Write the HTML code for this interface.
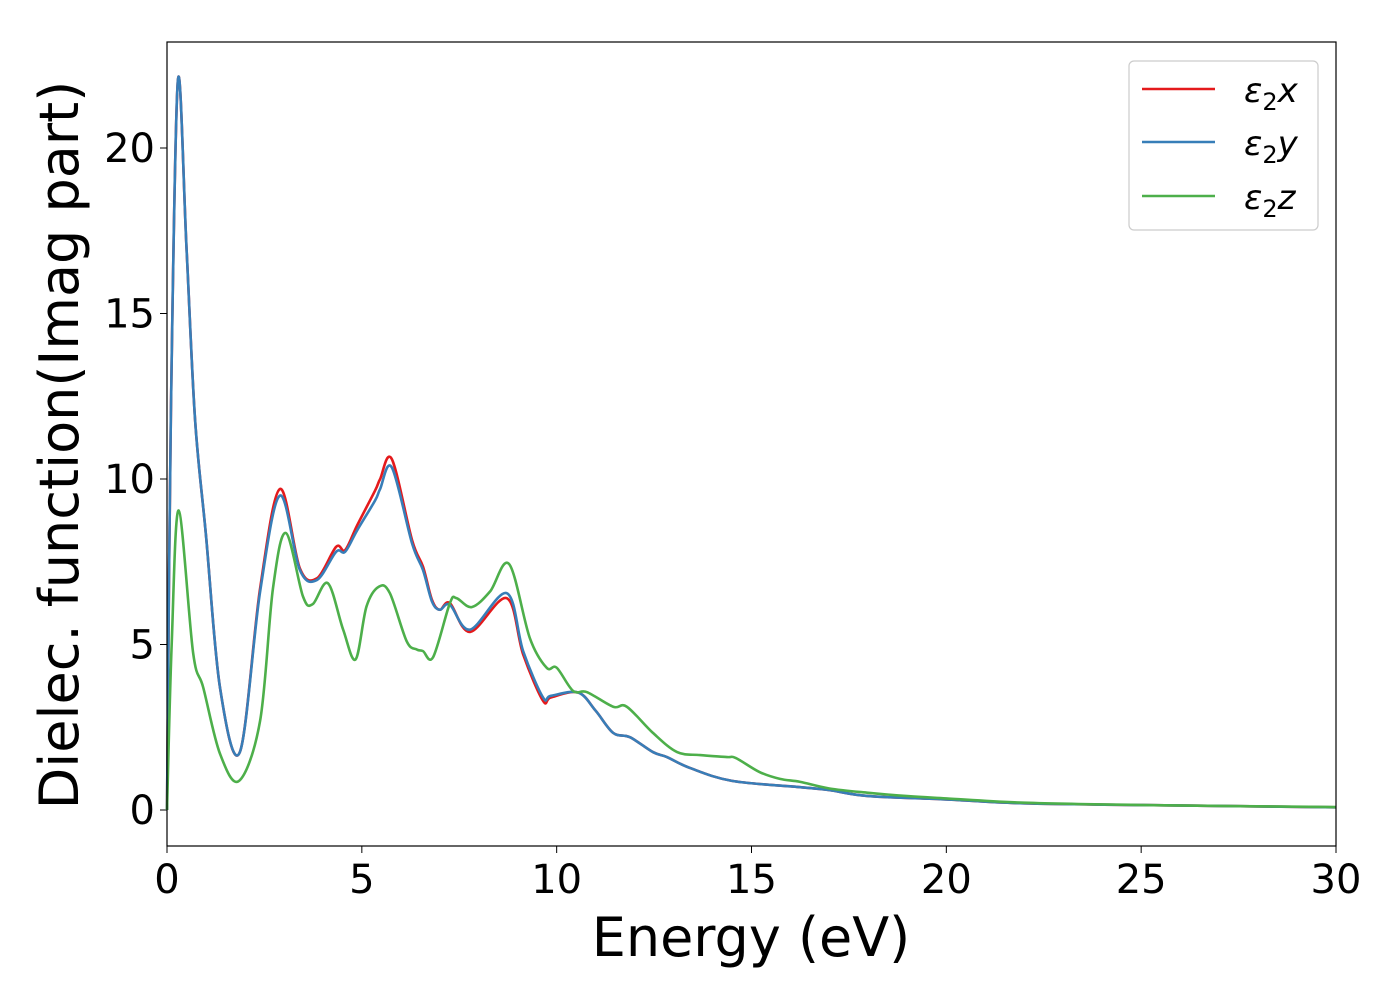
<!DOCTYPE html>
<html><head><meta charset="utf-8"><style>
body{margin:0;background:#fff;}
svg{display:block;font-family:"DejaVu Sans","Liberation Sans",sans-serif;}
</style></head><body>
<svg id="chart" width="1400" height="1000" viewBox="0 0 1400 1000" xmlns="http://www.w3.org/2000/svg">
<g id="axes"></g>
<g id="series"></g>
<rect x="167" y="42" width="1169" height="804" fill="none" stroke="#000" stroke-width="1.2"/>
<text x="751" y="956" font-size="54" text-anchor="middle">Energy (eV)</text>
<text transform="translate(78,445) rotate(-90)" font-size="54" text-anchor="middle">Dielec. function(Imag part)</text>
<g>
<rect x="1129" y="61" width="189" height="169" rx="5" fill="#fff" stroke="#ccc" stroke-width="1.2"/>
<g><line x1="1142" x2="1215" y1="89" y2="89" stroke="#e41a1c" stroke-width="2.5"/><text x="1244" y="102" font-size="34" font-style="italic">ε<tspan font-style="normal" font-size="24" dy="8">2</tspan><tspan dy="-8">x</tspan></text></g>
<g><line x1="1142" x2="1215" y1="142" y2="142" stroke="#377eb8" stroke-width="2.5"/><text x="1244" y="155" font-size="34" font-style="italic">ε<tspan font-style="normal" font-size="24" dy="8">2</tspan><tspan dy="-8">y</tspan></text></g>
<g><line x1="1142" x2="1215" y1="196" y2="196" stroke="#4daf4a" stroke-width="2.5"/><text x="1244" y="209" font-size="34" font-style="italic">ε<tspan font-style="normal" font-size="24" dy="8">2</tspan><tspan dy="-8">z</tspan></text></g>
</g>
</svg>
<script>
const xTicks=[0,5,10,15,20,25,30];
const yTicks=[0,5,10,15,20];
const eXY=[0,0.1,0.28,0.5,0.72,1.0,1.36,1.87,2.39,2.9,3.41,3.85,4.34,4.57,4.88,5.34,5.47,5.77,6.29,6.57,6.8,7.0,7.26,7.78,8.72,9.14,9.65,9.85,10.55,11.0,11.45,11.88,12.47,12.83,13.42,14.5,16.25,17,18,20,22,25,30];
const epsX=[0,12,22.05,17,11.8,8.3,3.7,1.75,6.7,9.7,7.3,7.0,7.95,7.85,8.6,9.65,10.0,10.6,8.15,7.35,6.35,6.05,6.25,5.38,6.4,4.7,3.3,3.4,3.55,3.0,2.33,2.2,1.75,1.6,1.27,0.88,0.69,0.6,0.42,0.32,0.2,0.15,0.08];
const epsY=[0,12,22.05,17,11.8,8.3,3.7,1.75,6.6,9.5,7.25,6.95,7.8,7.8,8.45,9.35,9.7,10.35,8.05,7.25,6.3,6.05,6.2,5.45,6.55,4.8,3.4,3.45,3.55,3.0,2.33,2.2,1.75,1.6,1.27,0.88,0.69,0.6,0.42,0.32,0.2,0.15,0.08];
const eZ=[0,0.12,0.3,0.67,0.93,1.36,1.85,2.39,2.72,3.05,3.49,3.74,4.13,4.52,4.84,5.12,5.44,5.72,6.15,6.41,6.57,6.83,7.26,7.43,7.82,8.29,8.78,9.31,9.74,10.0,10.42,10.78,11.45,11.8,12.47,13.09,13.68,14.37,14.6,15.2,15.73,16.25,17,18,19,20,22,25,30];
const epsZ=[0,5,9.05,4.75,3.7,1.7,0.88,2.7,6.7,8.37,6.45,6.22,6.85,5.45,4.55,6.15,6.75,6.55,5.1,4.85,4.8,4.62,6.25,6.4,6.13,6.6,7.43,5.2,4.3,4.3,3.6,3.56,3.12,3.12,2.33,1.75,1.66,1.6,1.57,1.15,0.94,0.85,0.65,0.52,0.42,0.35,0.22,0.15,0.09];
const NS="http://www.w3.org/2000/svg";
const sx=v=>167+v*(1336-167)/30;
const sy=v=>810-v*(810-148)/20;
const axes=document.getElementById('axes');
xTicks.forEach(t=>{
 const l=document.createElementNS(NS,'line');
 
 
 l.setAttribute('x1',sx(t));l.setAttribute('x2',sx(t));l.setAttribute('y1',846);l.setAttribute('y2',853);l.setAttribute('stroke','#000');
 axes.appendChild(l);
 const tx=document.createElementNS(NS,'text');
 
 
 tx.setAttribute('x',sx(t));tx.setAttribute('y',893);tx.setAttribute('font-size','40');tx.setAttribute('text-anchor','middle');
 tx.textContent=t;axes.appendChild(tx);
});
yTicks.forEach(t=>{
 const l=document.createElementNS(NS,'line');
 
 
 l.setAttribute('x1',160);l.setAttribute('x2',167);l.setAttribute('y1',sy(t));l.setAttribute('y2',sy(t));l.setAttribute('stroke','#000');
 axes.appendChild(l);
 const tx=document.createElementNS(NS,'text');
 
 
 tx.setAttribute('x',155);tx.setAttribute('y',sy(t)+14);tx.setAttribute('font-size','40');tx.setAttribute('text-anchor','end');
 tx.textContent=t;axes.appendChild(tx);
});
function pathFor(xs,ys){
 const p=xs.map((x,i)=>[sx(x),sy(ys[i])]);
 let d='M'+p[0][0]+','+p[0][1];
 for(let i=0;i<p.length-1;i++){
  const p0=p[Math.max(0,i-1)],p1=p[i],p2=p[i+1],p3=p[Math.min(p.length-1,i+2)];
  const t=1/6;
  const c1=[p1[0]+(p2[0]-p0[0])*t,p1[1]+(p2[1]-p0[1])*t];
  const c2=[p2[0]-(p3[0]-p1[0])*t,p2[1]-(p3[1]-p1[1])*t];
  d+=` C${c1[0]},${c1[1]} ${c2[0]},${c2[1]} ${p2[0]},${p2[1]}`;
 }
 return d;
}
const g=document.getElementById('series');
[[eXY,epsX,'#e41a1c','series-eps2-x'],[eXY,epsY,'#377eb8','series-eps2-y'],[eZ,epsZ,'#4daf4a','series-eps2-z']].forEach(s=>{
 const p=document.createElementNS(NS,'path');
 
 
 p.setAttribute('d',pathFor(s[0],s[1]));p.setAttribute('fill','none');p.setAttribute('stroke',s[2]);p.setAttribute('stroke-width','2.6');
 g.appendChild(p);
});
</script>
</body></html>
